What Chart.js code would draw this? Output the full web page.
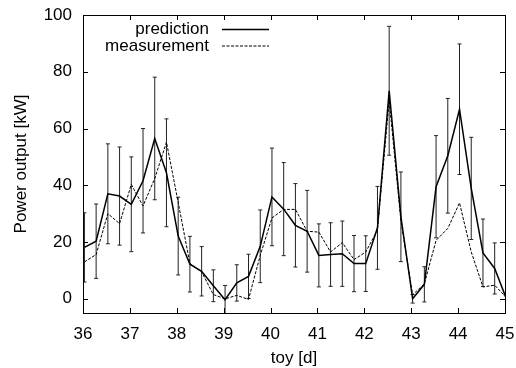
<!DOCTYPE html>
<html>
<head>
<meta charset="utf-8">
<script src="https://cdn.jsdelivr.net/npm/chart.js@4/dist/chart.umd.min.js"></script>
<style>
html,body{margin:0;padding:0;background:#fff;}
canvas{display:block;}
</style>
</head>
<body>
<canvas id="c" width="516" height="368"></canvas>
<script>
// ---- data ----
const days = [36.03, 36.28, 36.53, 36.78, 37.03, 37.28, 37.53, 37.78, 38.03, 38.28,
              38.53, 38.78, 39.03, 39.28, 39.53, 39.78, 40.03, 40.28, 40.53, 40.78,
              41.03, 41.28, 41.53, 41.78, 42.03, 42.28, 42.53, 42.78, 43.03, 43.28,
              43.53, 43.78, 44.03, 44.28, 44.53, 44.78, 45.03];
const prediction = [18.1, 20.3, 37.0, 36.2, 33.3, 41.6, 56.5, 44.4, 22.1, 12.2,
                    9.7, 4.6, -0.3, 5.6, 7.9, 18.5, 35.9, 31.6, 25.9, 23.8,
                    15.3, 15.6, 15.9, 12.4, 12.4, 25.0, 73.3, 28.9, 0.0, 5.1,
                    39.5, 50.4, 66.8, 38.9, 16.2, 10.7, 0.0];
const measurement = [13.0, 15.6, 30.0, 26.5, 40.3, 32.7, 42.4, 55.2, 34.0, 12.4,
                     9.5, 1.5, 0.0, 1.2, -0.2, 15.3, 28.5, 31.5, 31.5, 23.8,
                     23.5, 16.5, 19.8, 13.8, 16.5, 24.2, 70.0, 27.5, 1.4, 5.3,
                     20.6, 24.8, 33.8, 16.5, 4.2, 4.8, 0.4];
const predictionError = [12.2, 13.1, 17.6, 17.3, 16.7, 18.4, 21.6, 19.0, 13.7, 9.8,
                         8.7, 5.6, 5.0, 6.4, 7.8, 12.8, 17.2, 16.4, 14.7, 14.4,
                         11.1, 11.2, 11.5, 9.9, 9.8, 14.6, 22.7, 15.8, 1.5, 6.2,
                         18.0, 20.2, 23.0, 18.0, 11.9, 9.0, 0.0];
const xTicks = [36, 37, 38, 39, 40, 41, 42, 43, 44, 45];
const yTicks = [0, 20, 40, 60, 80, 100];
const seriesNames = ['prediction', 'measurement'];
const xTitle = 'toy [d]';
const yTitle = 'Power output [kW]';

const FONT = 'Liberation Sans, Arial, Helvetica, sans-serif';

const errorBars = {
  id: 'errorBars',
  beforeDatasetsDraw(chart) {
    const {ctx, chartArea: a, scales: {x, y}} = chart;
    ctx.save();
    ctx.beginPath();
    ctx.rect(a.left, a.top, a.right - a.left, a.bottom - a.top);
    ctx.clip();
    ctx.strokeStyle = '#222';
    ctx.lineWidth = 1;
    ctx.beginPath();
    days.forEach((d, i) => {
      const e = predictionError[i];
      if (!e) return;
      const px = x.getPixelForValue(d);
      const y1 = y.getPixelForValue(prediction[i] + e);
      const y2 = y.getPixelForValue(prediction[i] - e);
      ctx.moveTo(px, y1); ctx.lineTo(px, y2);
      ctx.moveTo(px - 2, y1); ctx.lineTo(px + 2, y1);
      ctx.moveTo(px - 2, y2); ctx.lineTo(px + 2, y2);
    });
    ctx.stroke();
    ctx.restore();
  }
};

const frame = {
  id: 'frame',
  afterDraw(chart) {
    const {ctx, chartArea: a, scales: {x, y}} = chart;
    ctx.save();
    ctx.strokeStyle = '#000';
    ctx.lineWidth = 1;
    ctx.strokeRect(Math.round(a.left) + 0.5, Math.round(a.top) + 0.5,
                   Math.round(a.right) - Math.round(a.left), Math.round(a.bottom) - Math.round(a.top));
    ctx.beginPath();
    const L = 5;
    xTicks.forEach(v => {
      const px = Math.round(x.getPixelForValue(v)) + 0.5;
      ctx.moveTo(px, a.bottom); ctx.lineTo(px, a.bottom - L);
      ctx.moveTo(px, a.top); ctx.lineTo(px, a.top + L);
    });
    yTicks.forEach(v => {
      const py = Math.round(y.getPixelForValue(v)) + 0.5;
      ctx.moveTo(a.left, py); ctx.lineTo(a.left + L, py);
      ctx.moveTo(a.right, py); ctx.lineTo(a.right - L, py);
    });
    ctx.stroke();

    // legend (gnuplot style: right-aligned text, sample line on the right)
    ctx.font = '17px ' + FONT;
    ctx.fillStyle = '#000';
    ctx.textAlign = 'right';
    ctx.textBaseline = 'middle';
    const rows = [29.5, 46];
    seriesNames.forEach((name, i) => {
      ctx.fillText(name, 209, rows[i]);
      ctx.beginPath();
      ctx.setLineDash(i === 0 ? [] : [3, 1.5]);
      ctx.lineWidth = i === 0 ? 1.5 : 1;
      ctx.moveTo(222, rows[i]); ctx.lineTo(269, rows[i]);
      ctx.stroke();
    });
    ctx.restore();
  }
};

new Chart(document.getElementById('c'), {
  type: 'line',
  data: {
    datasets: [
      {
        label: seriesNames[0],
        data: days.map((d, i) => ({x: d, y: prediction[i]})),
        borderColor: '#000',
        borderWidth: 1.5,
        pointRadius: 0,
        tension: 0,
        fill: false
      },
      {
        label: seriesNames[1],
        data: days.map((d, i) => ({x: d, y: measurement[i]})),
        borderColor: '#000',
        borderWidth: 1,
        borderDash: [3, 1.5],
        pointRadius: 0,
        tension: 0,
        fill: false
      }
    ]
  },
  options: {
    responsive: false,
    animation: false,
    layout: {padding: {top: 15, right: 11, left: 0, bottom: 0}},
    plugins: {legend: {display: false}, tooltip: {enabled: false}},
    scales: {
      x: {
        type: 'linear',
        min: 36, max: 45,
        afterBuildTicks: s => { s.ticks = xTicks.map(v => ({value: v})); },
        afterFit: s => { s.height = 55; s.paddingLeft = 0; s.paddingRight = 0; },
        grid: {display: false, drawTicks: false},
        border: {display: false},
        ticks: {font: {size: 17, family: FONT}, color: '#000', padding: 11, maxRotation: 0, autoSkip: false},
        title: {display: true, text: xTitle, color: '#000', font: {size: 17, family: FONT, lineHeight: 1}, padding: {top: 0, bottom: 1}}
      },
      y: {
        type: 'linear',
        min: -5, max: 100,
        afterBuildTicks: s => { s.ticks = yTicks.map(v => ({value: v})); },
        afterFit: s => { s.width = 83; s.paddingTop = 0; s.paddingBottom = 0; },
        grid: {display: false, drawTicks: false},
        border: {display: false},
        ticks: {font: {size: 17, family: FONT}, color: '#000', padding: 11, autoSkip: false},
        title: {display: true, text: yTitle, color: '#000', font: {size: 17, family: FONT}, padding: {top: 11, bottom: 0}}
      }
    }
  },
  plugins: [errorBars, frame]
});
</script>
</body>
</html>
